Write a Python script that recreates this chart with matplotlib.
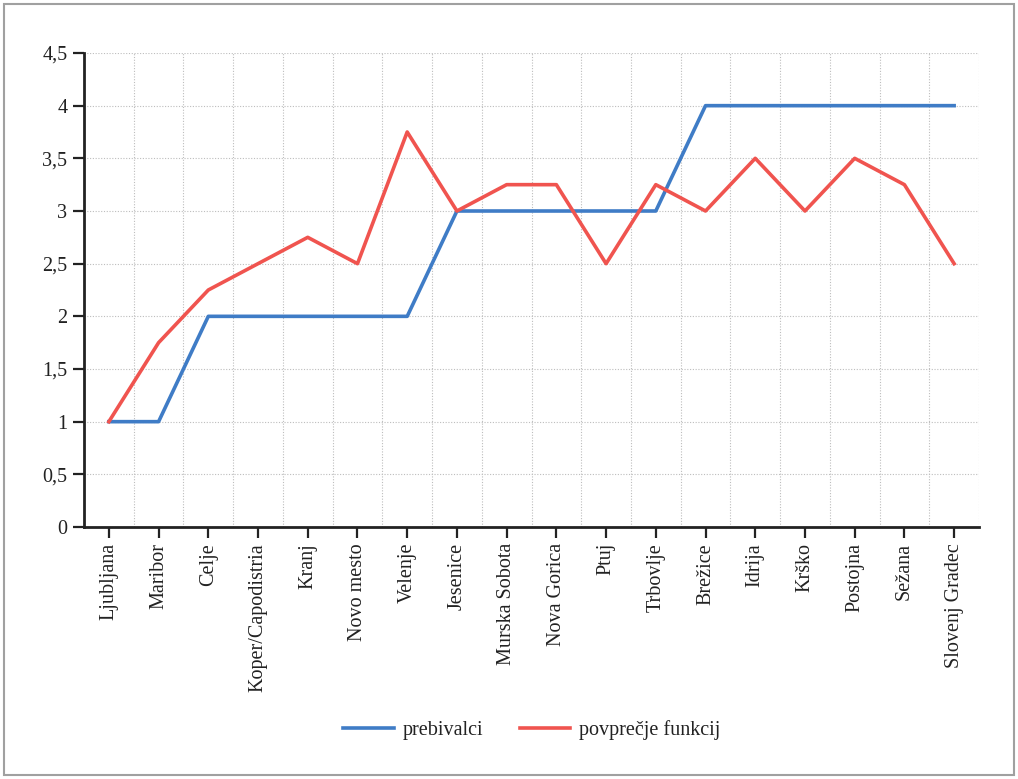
import matplotlib.pyplot as plt
from matplotlib.patches import Rectangle

# === Data ===
cities = ['Ljubljana', 'Maribor', 'Celje', 'Koper/Capodistria', 'Kranj', 'Novo mesto',
          'Velenje', 'Jesenice', 'Murska Sobota', 'Nova Gorica', 'Ptuj', 'Trbovlje',
          'Brežice', 'Idrija', 'Krško', 'Postojna', 'Sežana', 'Slovenj Gradec']
prebivalci = [1, 1, 2, 2, 2, 2, 2, 3, 3, 3, 3, 3, 4, 4, 4, 4, 4, 4]
povprecje = [1, 1.75, 2.25, 2.5, 2.75, 2.5, 3.75, 3, 3.25, 3.25, 2.5, 3.25,
             3, 3.5, 3, 3.5, 3.25, 2.5]
yticks = [0, 0.5, 1, 1.5, 2, 2.5, 3, 3.5, 4, 4.5]

plt.rcParams['font.family'] = ['Liberation Serif', 'DejaVu Serif']
plt.rcParams['font.size'] = 14.5

fig = plt.figure(figsize=(10.18, 7.79), dpi=100)
ax = fig.add_axes([84 / 1018, 1 - 527 / 779, (979 - 84) / 1018, (527 - 53) / 779])

x = list(range(len(cities)))
ax.plot(x, prebivalci, color='#3f7cc6', lw=2.6, label='prebivalci')
ax.plot(x, povprecje, color='#f0544f', lw=2.6, label='povprečje funkcij')

ax.set_xlim(-0.5, len(cities) - 0.5)
ax.set_ylim(0, 4.5)
ax.set_yticks(yticks)
ax.set_yticklabels([str(v).replace('.', ',').replace(',0', '') for v in yticks])
ax.set_xticks(x)
ax.set_xticklabels(cities, rotation=90)

# gridlines between categories
ax.set_xticks([i + 0.5 for i in x], minor=True)
ax.grid(True, which='minor', axis='x', color='#bdbdbd', ls=(0, (1, 1.5)), lw=0.8)
ax.grid(True, which='major', axis='y', color='#bdbdbd', ls=(0, (1, 1.5)), lw=0.8)
ax.tick_params(axis='x', which='minor', length=0)
ax.tick_params(axis='both', which='major', length=8, width=1.6, color='#222222',
               labelsize=14.5, labelcolor='#222222')
ax.tick_params(axis='y', pad=4)

for s in ['top', 'right']:
    ax.spines[s].set_visible(False)
for s in ['left', 'bottom']:
    ax.spines[s].set_linewidth(2)
    ax.spines[s].set_color('#222222')

fig.legend(loc='center', bbox_to_anchor=(532 / 1018, 1 - 730 / 779), ncol=2, frameon=False,
           fontsize=14.5, handlelength=2.5, handletextpad=0.45, columnspacing=1.8,
           labelcolor='#222222')

# figure border
fig.patches.append(Rectangle((4 / 1018, 4 / 779), 1010 / 1018, 771 / 779,
                             transform=fig.transFigure, fill=False,
                             edgecolor='#a0a0a0', lw=1.5))

fig.savefig('out.png', dpi=100)
